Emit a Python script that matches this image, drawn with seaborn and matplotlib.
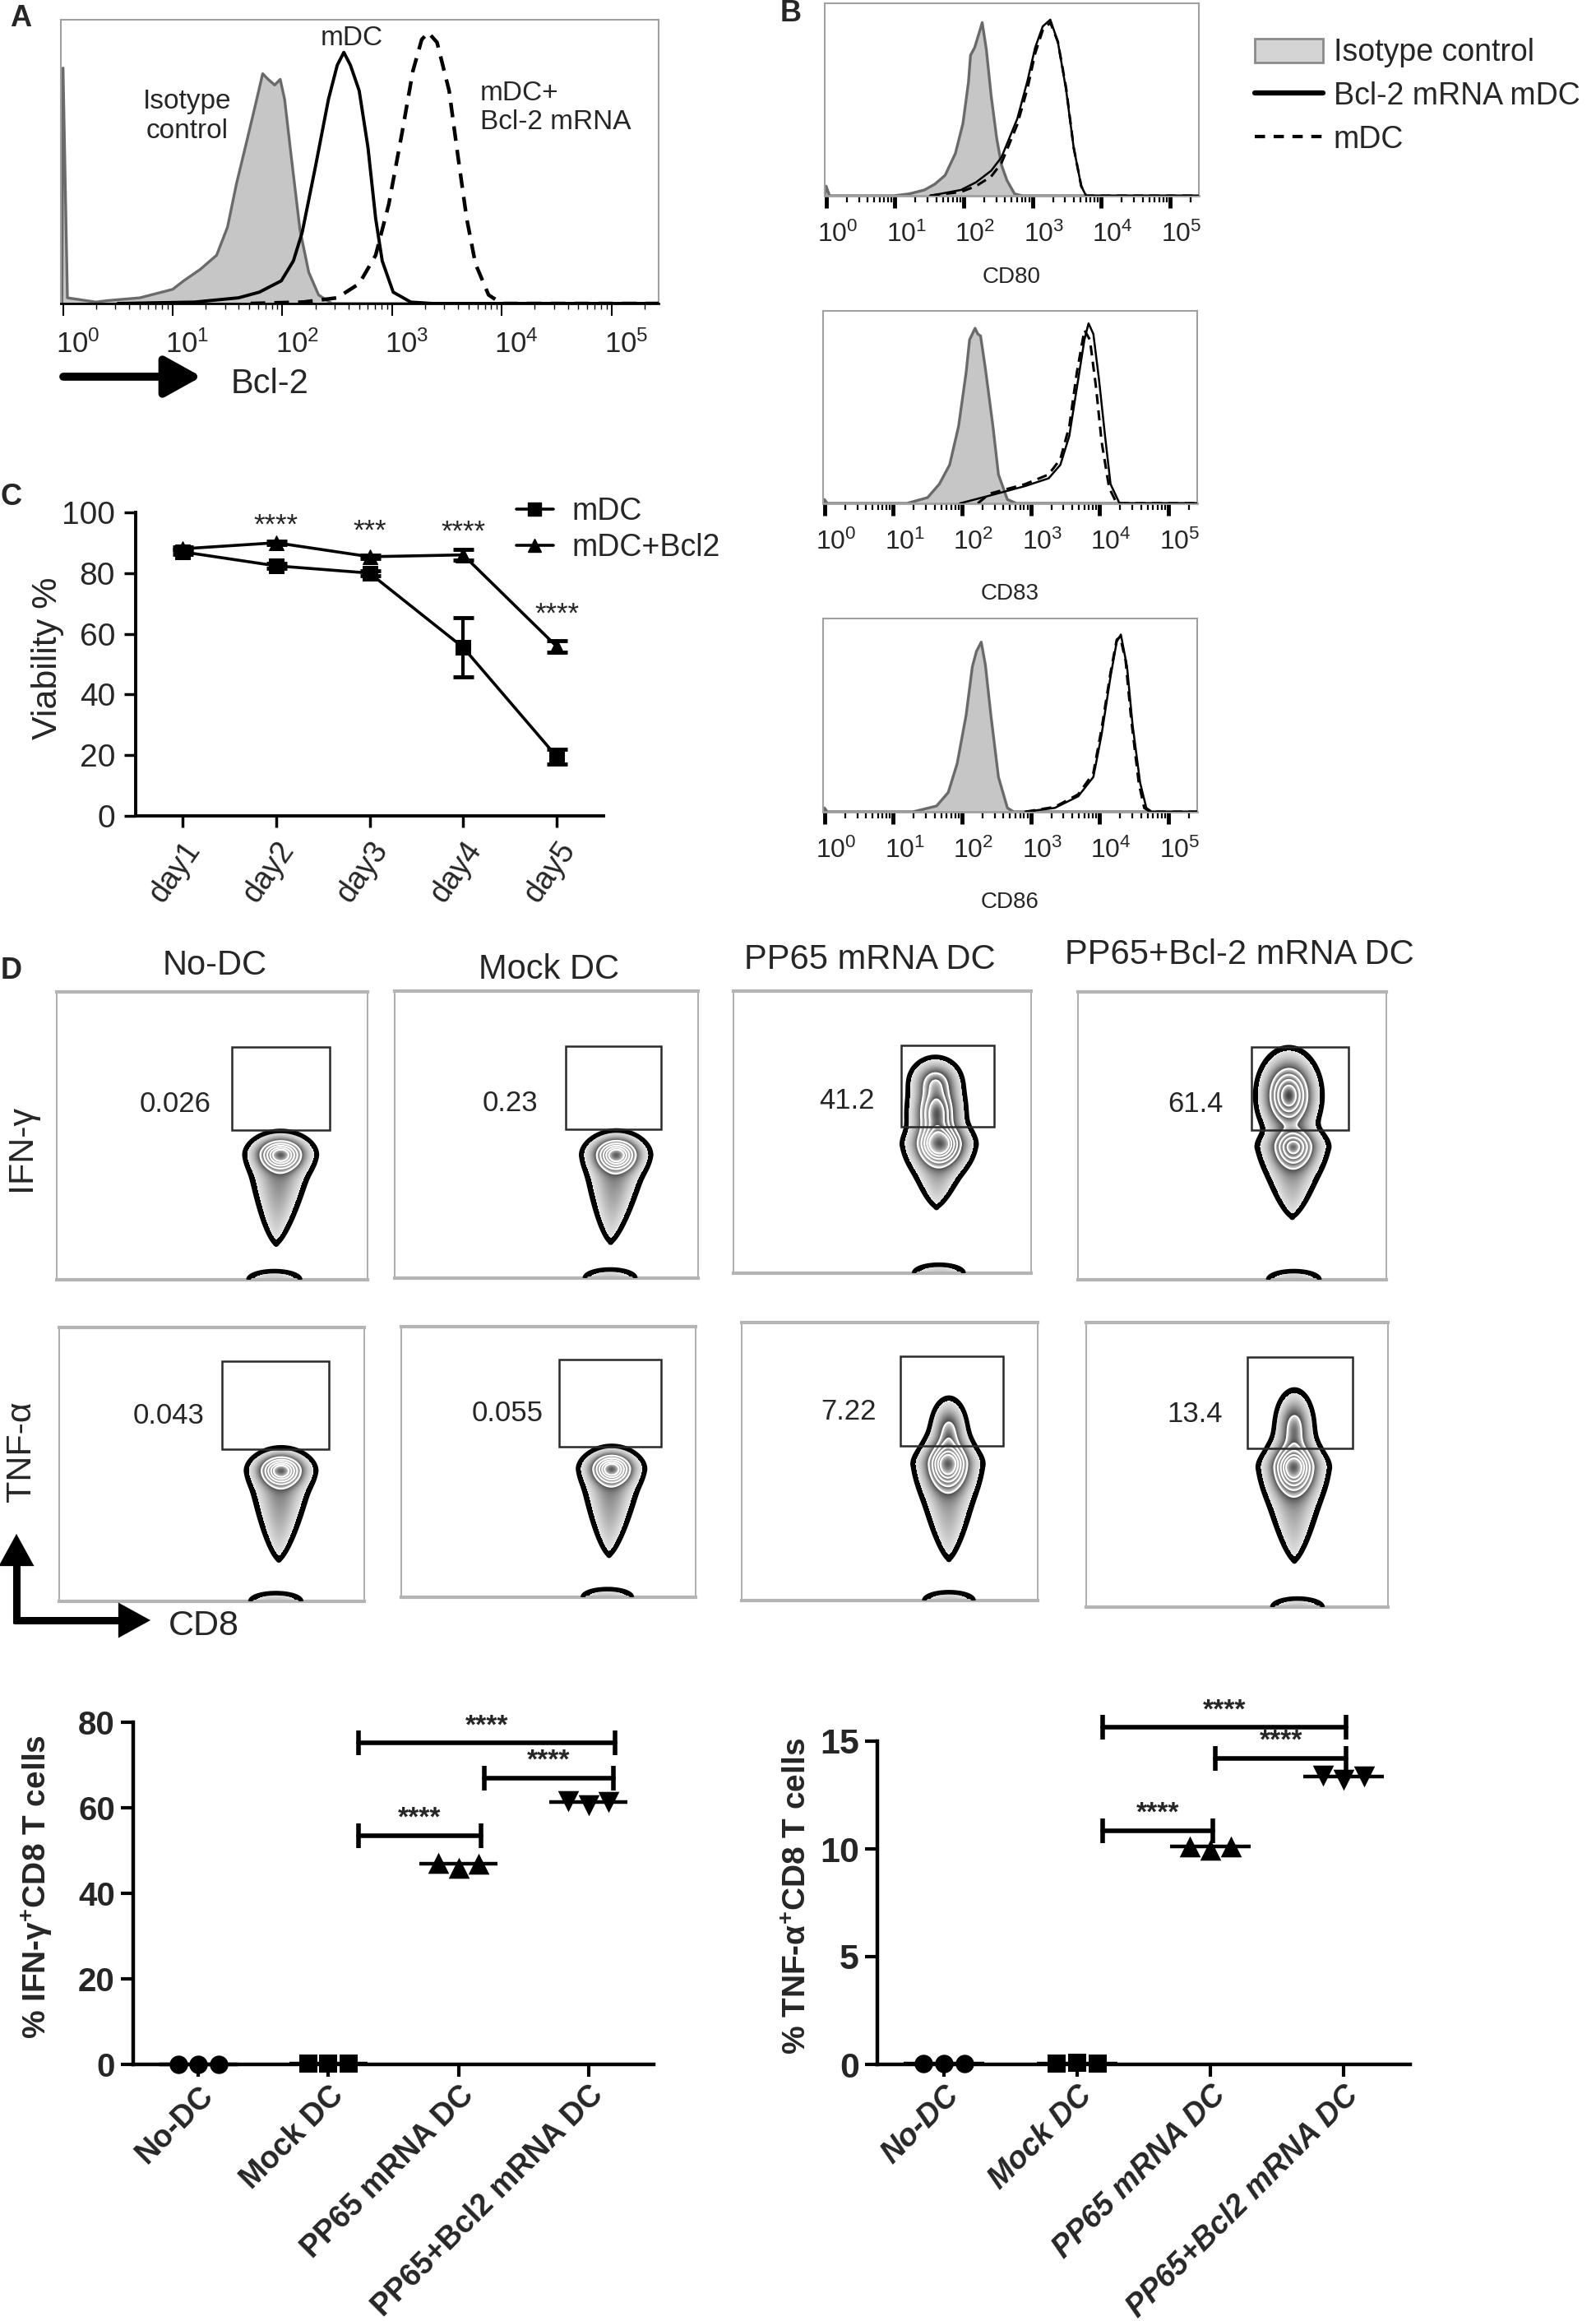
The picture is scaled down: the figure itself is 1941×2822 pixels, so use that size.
import numpy as np
import pandas as pd
import matplotlib
matplotlib.use("Agg")
import matplotlib.pyplot as plt
import matplotlib.transforms as mtransforms
from matplotlib.patches import Rectangle, Patch
from matplotlib.lines import Line2D
import seaborn as sns

# ====================== DATA ======================
# Panel A - Bcl-2 histograms (x = log10 fluorescence, y = relative count)
a_iso_x = [-0.01, 0.0, 0.04, 0.3, 0.4, 0.55, 0.7, 0.85, 1.0, 1.1, 1.25, 1.4, 1.5, 1.58, 1.68,
           1.76, 1.82, 1.87, 1.93, 1.98, 2.02, 2.08, 2.16, 2.24, 2.33, 2.45, 5.43]
a_iso_y = [0.0, 0.83, 0.02, 0.005, 0.01, 0.015, 0.02, 0.035, 0.05, 0.08, 0.12, 0.17, 0.27, 0.42, 0.58,
           0.71, 0.81, 0.79, 0.77, 0.79, 0.72, 0.52, 0.26, 0.11, 0.03, 0.0, 0.0]
a_mdc_x = [0.5, 1.2, 1.6, 1.79, 1.99, 2.1, 2.18, 2.3, 2.42, 2.5, 2.56, 2.62, 2.7, 2.78, 2.85, 2.91,
           3.01, 3.17, 3.37, 5.43]
a_mdc_y = [0.0, 0.005, 0.02, 0.04, 0.08, 0.15, 0.25, 0.48, 0.72, 0.84, 0.885, 0.84, 0.75, 0.55, 0.3, 0.15,
           0.04, 0.005, 0.0, 0.0]
a_bcl_x = [1.71, 2.19, 2.5, 2.7, 2.85, 2.97, 3.09, 3.19, 3.27, 3.33, 3.41, 3.52, 3.6, 3.68, 3.76, 3.88,
           4.0, 5.43]
a_bcl_y = [0.0, 0.005, 0.02, 0.07, 0.17, 0.35, 0.6, 0.82, 0.93, 0.955, 0.92, 0.75, 0.52, 0.3, 0.14, 0.03,
           0.0, 0.0]

# Panel B - CD80 / CD83 / CD86 histograms
b_markers = ["CD80", "CD83", "CD86"]
b1_iso_x = [-0.02, 0.0, 0.05, 0.99, 1.21, 1.43, 1.58, 1.73, 1.88, 1.99, 2.07, 2.1, 2.16, 2.22, 2.27,
            2.33, 2.4, 2.48, 2.55, 2.63, 2.74, 2.85, 5.42]
b1_iso_y = [0.0, 0.05, 0.0, 0.0, 0.01, 0.03, 0.06, 0.106, 0.22, 0.376, 0.59, 0.73, 0.77, 0.84, 0.9,
            0.76, 0.52, 0.3, 0.16, 0.08, 0.01, 0.0, 0.0]
b1_sol_x = [1.51, 1.96, 2.18, 2.4, 2.55, 2.78, 2.93, 3.04, 3.15, 3.26, 3.37, 3.49, 3.6, 3.71, 3.78, 5.42]
b1_sol_y = [0.0, 0.03, 0.07, 0.13, 0.2, 0.4, 0.6, 0.77, 0.88, 0.915, 0.8, 0.55, 0.25, 0.05, 0.0, 0.0]
b1_dash_x = [1.51, 1.96, 2.18, 2.4, 2.55, 2.78, 2.93, 3.04, 3.15, 3.26, 3.37, 3.49, 3.6, 3.71, 3.78, 5.42]
b1_dash_y = [0.0, 0.02, 0.05, 0.1, 0.17, 0.37, 0.56, 0.74, 0.86, 0.9, 0.8, 0.56, 0.25, 0.05, 0.0, 0.0]

b2_iso_x = [-0.02, 0.0, 0.04, 1.2, 1.5, 1.67, 1.82, 1.95, 2.06, 2.11, 2.19, 2.23, 2.27, 2.34, 2.45,
            2.53, 2.66, 2.79, 5.42]
b2_iso_y = [0.0, 0.02, 0.0, 0.0, 0.03, 0.1, 0.2, 0.4, 0.68, 0.85, 0.91, 0.88, 0.87, 0.7, 0.4,
            0.15, 0.02, 0.0, 0.0]
b2_sol_x = [1.97, 2.4, 2.92, 3.26, 3.43, 3.56, 3.67, 3.78, 3.84, 3.91, 3.99, 4.08, 4.16, 4.29, 5.42]
b2_sol_y = [0.0, 0.04, 0.09, 0.13, 0.2, 0.35, 0.6, 0.85, 0.935, 0.88, 0.65, 0.35, 0.1, 0.0, 0.0]
b2_dash_x = [2.23, 2.4, 2.92, 3.26, 3.43, 3.56, 3.67, 3.78, 3.86, 3.95, 4.03, 4.14, 4.25, 5.42]
b2_dash_y = [0.0, 0.05, 0.1, 0.15, 0.23, 0.4, 0.68, 0.9, 0.85, 0.6, 0.32, 0.08, 0.0, 0.0]

b3_iso_x = [-0.02, 0.0, 0.04, 1.29, 1.63, 1.8, 1.93, 2.06, 2.15, 2.21, 2.28, 2.34, 2.42, 2.53, 2.66,
            2.75, 5.42]
b3_iso_y = [0.0, 0.02, 0.0, 0.0, 0.03, 0.1, 0.25, 0.5, 0.75, 0.83, 0.878, 0.76, 0.5, 0.18, 0.02,
            0.0, 0.0]
b3_sol_x = [2.92, 3.35, 3.69, 3.91, 4.03, 4.16, 4.25, 4.31, 4.4, 4.48, 4.59, 4.68, 4.76, 5.42]
b3_sol_y = [0.0, 0.02, 0.08, 0.18, 0.4, 0.7, 0.88, 0.917, 0.75, 0.45, 0.15, 0.02, 0.0, 0.0]
b3_dash_x = [2.92, 3.35, 3.69, 3.91, 4.03, 4.16, 4.25, 4.3, 4.38, 4.46, 4.57, 4.65, 4.74, 5.42]
b3_dash_y = [0.0, 0.025, 0.09, 0.2, 0.43, 0.72, 0.89, 0.905, 0.78, 0.48, 0.15, 0.02, 0.0, 0.0]

legend_labels = ["Isotype control", "Bcl-2 mRNA mDC", "mDC"]

# Panel C - viability
days = ["day1", "day2", "day3", "day4", "day5"]
c_mdc = [87.0, 82.4, 80.0, 55.5, 19.5]
c_mdc_err = [0.8, 0.8, 0.8, 9.8, 2.4]
c_bcl = [88.0, 90.0, 85.4, 86.0, 55.8]
c_bcl_err = [0.5, 0.6, 0.6, 1.8, 2.0]
c_sig = ["", "****", "***", "****", "****"]
c_sig_y = [0, 95.7, 93.8, 93.5, 66.5]

# Panel D - flow plots
d_titles = ["No-DC", "Mock DC", "PP65 mRNA DC", "PP65+Bcl-2 mRNA DC"]
d_ifn_pct = ["0.026", "0.23", "41.2", "61.4"]
d_tnf_pct = ["0.043", "0.055", "7.22", "13.4"]
# populations (panel fractions):
#   cores: (cx, cy, sx, sy, weight); tail: (x_start, y_start, width_start, level_start, x_tip, y_tip)
d_ifn_pop = [
    ([(0.721, 0.433, 0.037, 0.029, 1.0), (0.70, 0.0, 0.05, 0.018, 0.08)],
     (0.720, 0.433, 0.043, 0.25, 0.706, 0.127)),
    ([(0.731, 0.428, 0.036, 0.030, 1.0), (0.71, 0.0, 0.05, 0.018, 0.08)],
     (0.729, 0.428, 0.043, 0.25, 0.712, 0.128)),
    ([(0.682, 0.57, 0.037, 0.06, 0.8), (0.693, 0.455, 0.04, 0.04, 1.0), (0.678, 0.68, 0.036, 0.035, 0.35),
      (0.69, 0.0, 0.05, 0.018, 0.08)],
     (0.69, 0.455, 0.046, 0.25, 0.682, 0.236)),
    ([(0.684, 0.64, 0.039, 0.06, 1.0), (0.699, 0.46, 0.035, 0.04, 0.7), (0.70, 0.0, 0.05, 0.018, 0.08)],
     (0.697, 0.46, 0.046, 0.25, 0.695, 0.22)),
]
d_tnf_pop = [
    ([(0.728, 0.476, 0.036, 0.030, 1.0), (0.71, 0.0, 0.05, 0.018, 0.08)],
     (0.727, 0.476, 0.043, 0.25, 0.72, 0.154)),
    ([(0.715, 0.473, 0.035, 0.030, 1.0), (0.70, 0.0, 0.05, 0.018, 0.08)],
     (0.714, 0.473, 0.043, 0.25, 0.706, 0.158)),
    ([(0.697, 0.49, 0.036, 0.05, 1.0), (0.70, 0.61, 0.026, 0.05, 0.35), (0.70, 0.0, 0.05, 0.018, 0.08)],
     (0.697, 0.49, 0.046, 0.25, 0.70, 0.151)),
    ([(0.688, 0.49, 0.036, 0.05, 1.0), (0.69, 0.63, 0.027, 0.055, 0.4), (0.70, 0.0, 0.05, 0.018, 0.08)],
     (0.688, 0.49, 0.046, 0.25, 0.69, 0.165)),
]

# Bottom dot plots
groups = ["No-DC", "Mock DC", "PP65 mRNA DC", "PP65+Bcl2 mRNA DC"]
ifn_vals = [[0.03, 0.02, 0.03], [0.23, 0.25, 0.20], [47.2, 46.0, 47.0], [61.5, 60.6, 61.4]]
tnf_vals = [[0.04, 0.04, 0.05], [0.055, 0.06, 0.05], [10.1, 9.95, 10.1], [13.4, 13.2, 13.35]]
ifn_brackets = [(1.23, 3.20, 75.1), (2.20, 3.19, 66.9), (1.23, 2.17, 53.4)]
tnf_brackets = [(1.19, 3.02, 15.63), (2.04, 3.02, 14.2), (1.19, 2.02, 10.85)]
bracket_label = "****"

# ====================== STYLE / LAYOUT ======================
sns.set_theme(style="white")
REG = ["Liberation Sans", "DejaVu Sans"]
NARROW = ["Liberation Sans Narrow", "Liberation Sans", "DejaVu Sans"]
plt.rcParams["font.family"] = REG
plt.rcParams["mathtext.fontset"] = "custom"
plt.rcParams["mathtext.rm"] = "Liberation Sans"
plt.rcParams["mathtext.it"] = "Liberation Sans:italic"
plt.rcParams["mathtext.bf"] = "Liberation Sans:bold"
plt.rcParams["axes.facecolor"] = "white"

W, H = 1941, 2822
fig = plt.figure(figsize=(W / 100, H / 100), dpi=100)
fig.patch.set_facecolor("white")


def add_ax(l, t, r, b):
    return fig.add_axes([l / W, 1 - b / H, (r - l) / W, (b - t) / H])


ov = fig.add_axes([0, 0, 1, 1], zorder=10)
ov.set_xlim(0, W)
ov.set_ylim(H, 0)
ov.axis("off")
ov.patch.set_alpha(0)


def log_axis(ax, xmax, labsize, labfam, pad, shift_px, major_w=1.5, gray_bottom=False):
    ax.set_xlim(-0.02, xmax)
    ax.set_ylim(0, 1)
    ax.set_yticks([])
    ax.set_xticks(range(6))
    ax.set_xticklabels([f"$10^{{{d}}}$" for d in range(6)])
    minors = [d + np.log10(k) for d in range(6) for k in range(2, 10) if d + np.log10(k) < xmax]
    ax.set_xticks(minors, minor=True)
    ax.tick_params(axis="x", which="major", direction="out", length=11, width=major_w, color="black",
                   labelsize=labsize, pad=pad, bottom=True)
    ax.tick_params(axis="x", which="minor", direction="out", length=5, width=1.0, color="black", bottom=True)
    off = mtransforms.ScaledTranslation(shift_px / 100, 0, fig.dpi_scale_trans)
    for lab in ax.get_xticklabels():
        lab.set_transform(lab.get_transform() + off)
        lab.set_fontfamily(labfam)
    for s in ["top", "right", "left"]:
        ax.spines[s].set_color("#a0a0a0")
        ax.spines[s].set_linewidth(1.5)
    ax.spines["bottom"].set_color("#a0a0a0" if gray_bottom else "black")
    ax.spines["bottom"].set_linewidth(2)
    ax.grid(False)


def hist(ax, ix, iy, sx, sy, dx, dy, lw=2.3):
    ax.fill_between(ix, iy, color="#c6c6c6", lw=0, zorder=1)
    ax.plot(ix, iy, color="#6a6a6a", lw=2.4, zorder=2)
    sns.lineplot(x=sx, y=sy, ax=ax, color="black", lw=lw, estimator=None, sort=False, zorder=3)
    sns.lineplot(x=dx, y=dy, ax=ax, color="black", lw=lw + 0.4, estimator=None, sort=False,
                 linestyle=(0, (4, 2.5)), zorder=4)


# ---------------- Panel A ----------------
axA = add_ax(74, 24, 801, 369)
hist(axA, a_iso_x, a_iso_y, a_mdc_x, a_mdc_y, a_bcl_x, a_bcl_y, lw=2.8)
log_axis(axA, 5.43, 25, NARROW, 12, 18)
axA.text(1.13, 0.66, "Isotype\ncontrol", ha="center", va="center", fontsize=24, family=NARROW, linespacing=1.2)
axA.text(2.63, 0.935, "mDC", ha="center", va="center", fontsize=24, family=NARROW)
axA.text(3.80, 0.69, "mDC+\nBcl-2 mRNA", ha="left", va="center", fontsize=24, family=NARROW, linespacing=1.2)
ov.text(12, 22, "A", fontsize=26, fontweight="bold", ha="left", va="center")
ov.annotate("", xy=(245, 458), xytext=(77, 458),
            arrowprops=dict(arrowstyle="-|>,head_length=0.9,head_width=0.5", lw=7, color="black",
                            shrinkA=0, shrinkB=0, mutation_scale=30))
ov.text(328, 467, "Bcl-2", fontsize=30, family=NARROW, ha="center", va="center")

# ---------------- Panel B ----------------
b_boxes = [(1003, 4, 1458, 238), (1001, 378, 1456, 612), (1001, 752, 1456, 987)]
b_data = [(b1_iso_x, b1_iso_y, b1_sol_x, b1_sol_y, b1_dash_x, b1_dash_y),
          (b2_iso_x, b2_iso_y, b2_sol_x, b2_sol_y, b2_dash_x, b2_dash_y),
          (b3_iso_x, b3_iso_y, b3_sol_x, b3_sol_y, b3_dash_x, b3_dash_y)]
for k, (box, dat) in enumerate(zip(b_boxes, b_data)):
    ax = add_ax(*box)
    hist(ax, *dat, lw=1.8)
    log_axis(ax, 5.42, 23, NARROW if k == 0 else REG, 12, 14, major_w=3.5, gray_bottom=True)
    ax.tick_params(axis="x", which="minor", width=1.6, length=6)
    ov.text((box[0] + box[2]) / 2, box[3] + (99 if k == 0 else 110), b_markers[k], fontsize=20,
            family=NARROW if k == 0 else REG, ha="center", va="center")
ov.text(962, 16, "B", fontsize=26, fontweight="bold", ha="center", va="center")

handles = [Patch(facecolor="#d4d4d4", edgecolor="#8a8a8a", lw=2),
           Line2D([0], [0], color="black", lw=4.5),
           Line2D([0], [0], color="black", lw=3, linestyle=(0, (3, 2.5)))]
fig.legend(handles, legend_labels, loc="upper left", bbox_to_anchor=(1500 / W, 1 - 20 / H), frameon=False,
           prop={"family": NARROW, "size": 27}, handlelength=2.2, handleheight=0.8, handletextpad=0.35,
           labelspacing=0.45, borderpad=0.2)

# ---------------- Panel C ----------------
axC = add_ax(165, 623, 734, 992)
xpos = np.arange(len(days))
dfc = pd.DataFrame({"pos": np.concatenate([xpos, xpos]),
                    "val": c_mdc + c_bcl,
                    "grp": ["mDC"] * 5 + ["mDC+Bcl2"] * 5})
sns.lineplot(data=dfc, x="pos", y="val", style="grp", markers={"mDC": "s", "mDC+Bcl2": "^"},
             dashes=False, color="black", lw=2.6, markersize=13, markeredgecolor="black",
             legend=False, ax=axC, estimator=None, zorder=3)
axC.errorbar(xpos, c_mdc, yerr=c_mdc_err, fmt="none", ecolor="black", elinewidth=3, capsize=9, capthick=3.5,
             zorder=4)
axC.errorbar(xpos, c_bcl, yerr=c_bcl_err, fmt="none", ecolor="black", elinewidth=3, capsize=9, capthick=3.5,
             zorder=4)
for i, (s, y) in enumerate(zip(c_sig, c_sig_y)):
    if s:
        axC.text(i, y, s, ha="center", va="center", fontsize=25, family=NARROW)
axC.set_xlim(-0.5, 4.5)
axC.set_ylim(0, 100)
axC.set_yticks(range(0, 101, 20))
axC.set_xticks(xpos)
axC.set_xticklabels(days, rotation=55, ha="right", rotation_mode="anchor")
axC.set_xlabel("")
axC.set_ylabel("")
axC.tick_params(axis="both", direction="out", length=10, width=2.5, color="black", labelsize=28,
                left=True, bottom=True, pad=8)
for lab in axC.get_xticklabels() + axC.get_yticklabels():
    lab.set_fontfamily(NARROW)
for lab in axC.get_xticklabels():
    lab.set_fontsize(27)
for s in ["top", "right"]:
    axC.spines[s].set_visible(False)
for s in ["left", "bottom"]:
    axC.spines[s].set_color("black")
    axC.spines[s].set_linewidth(2.8)
ov.text(58, 800, "Viability %", rotation=90, fontsize=31, family=NARROW, ha="center", va="center")
ov.text(14, 604, "C", fontsize=26, fontweight="bold", ha="center", va="center")
c_handles = [Line2D([0], [0], color="black", lw=2.6, marker="s", markersize=12),
             Line2D([0], [0], color="black", lw=2.6, marker="^", markersize=12)]
fig.legend(c_handles, ["mDC", "mDC+Bcl2"], loc="upper left", bbox_to_anchor=(605 / W, 1 - 582 / H),
           frameon=False, prop={"family": NARROW, "size": 27}, handlelength=1.2, handletextpad=0.6,
           labelspacing=0.2, borderpad=0.1)

# ---------------- Panel D ----------------
LV0 = 0.02
LV_BLACK = 0.032
LV_WHITE = np.array([0.3, 0.48, 0.66, 0.84, 1.0])


def zebra(ax, pop):
    cores, tail = pop
    n = 450
    g = np.linspace(0, 1, n)
    X, Y = np.meshgrid(g, g)
    D = np.zeros_like(X)
    for cx, cy, sx, sy, w in cores:
        D += w * np.exp(-0.5 * (((X - cx) / sx) ** 2 + ((Y - cy) / sy) ** 2))
    xs, ys, s0, a0, xt, yt = tail
    L = ys - yt
    t = (ys - Y) / L
    tc = np.clip(t, 0, 1)
    A = a0 * (1 - tc) + 0.024 * tc
    A = np.where(t < 0, a0 * np.exp(-0.5 * (t * L / 0.03) ** 2), A)
    A = np.where(t > 1, 0.024 * np.exp(-0.5 * ((t - 1) * L / 0.008) ** 2), A)
    S = s0 * np.sqrt(1 - tc) + 0.005
    XC = xs + (xt - xs) * tc
    D += A * np.exp(-0.5 * ((X - XC) / S) ** 2)

    bounds = np.concatenate([[LV_BLACK], LV_WHITE, [max(D.max(), 1.0) + 0.05]])
    k = np.digitize(D, bounds)
    inside = k > 0
    kk = np.clip(k, 1, len(bounds) - 1)
    lo = bounds[kk - 1]
    hi = bounds[kk]
    f = np.clip((D - lo) / (hi - lo), 0, 1)
    gray = 0.9 - 0.65 * f
    rgba = np.zeros(X.shape + (4,))
    rgba[..., 0] = gray
    rgba[..., 1] = gray
    rgba[..., 2] = gray
    rgba[..., 3] = inside.astype(float)
    ax.imshow(rgba, extent=(0, 1, 0, 1), origin="lower", aspect="auto", interpolation="bilinear", zorder=1)
    ax.contourf(X, Y, D, levels=[LV0, LV_BLACK], colors=["black"], zorder=2)
    ax.contour(X, Y, D, levels=LV_WHITE, colors="white", linewidths=1.5, zorder=3)
    ax.contour(X, Y, D, levels=[LV0], colors="black", linewidths=4.0, zorder=4)


d_row1 = [(69, 1206, 447, 1556), (480, 1205, 849, 1554), (892, 1205, 1254, 1548), (1311, 1206, 1686, 1556)]
d_row2 = [(72, 1614, 443, 1947), (488, 1613, 846, 1942), (902, 1608, 1262, 1946), (1321, 1608, 1688, 1954)]
gate1 = (0.563, 0.52, 0.877, 0.809)
gate2 = (0.535, 0.557, 0.883, 0.878)
lab1 = (0.38, 0.61)
lab2 = (0.36, 0.678)
for row, boxes, pops, pcts, gate, lab in [(0, d_row1, d_ifn_pop, d_ifn_pct, gate1, lab1),
                                          (1, d_row2, d_tnf_pop, d_tnf_pct, gate2, lab2)]:
    for j, box in enumerate(boxes):
        ax = add_ax(*box)
        ax.set_xlim(0, 1)
        ax.set_ylim(0, 1)
        zebra(ax, pops[j])
        ax.add_patch(Rectangle((gate[0], gate[1]), gate[2] - gate[0], gate[3] - gate[1], fill=False,
                               edgecolor="#2a2a2a", lw=1.8, zorder=5))
        ax.text(lab[0], lab[1], pcts[j], ha="center", va="center", fontsize=25, family=REG, zorder=6)
        ax.set_xticks([])
        ax.set_yticks([])
        for s in ["left", "right"]:
            ax.spines[s].set_color("#a8a8a8")
            ax.spines[s].set_linewidth(1.3)
        for s in ["top", "bottom"]:
            ax.spines[s].set_color("#b4b4b4")
            ax.spines[s].set_linewidth(3.0)
        ax.grid(False)

title_pos = [(261, 1174), (668, 1179), (1058, 1167), (1507, 1161)]
for t, (x, y) in zip(d_titles, title_pos):
    ov.text(x, y, t, fontsize=30, family=NARROW, ha="center", va="center")
ov.text(14, 1180, "D", fontsize=26, fontweight="bold", ha="center", va="center")
ov.text(26, 1395, "IFN-γ", rotation=90, fontsize=31, family=REG, ha="center", va="center")
ov.text(26, 1765, "TNF-α", rotation=90, fontsize=31, family=REG, ha="center", va="center")
ov.plot([20, 20], [1974, 1890], color="black", lw=6.5, solid_capstyle="butt")
ov.annotate("", xy=(20, 1865), xytext=(20, 1895),
            arrowprops=dict(arrowstyle="-|>,head_length=1.0,head_width=0.55", lw=0.1, color="black",
                            shrinkA=0, shrinkB=0, mutation_scale=28))
ov.plot([17, 160], [1970, 1970], color="black", lw=6.5, solid_capstyle="butt")
ov.annotate("", xy=(183, 1970), xytext=(150, 1970),
            arrowprops=dict(arrowstyle="-|>,head_length=1.0,head_width=0.55", lw=0.1, color="black",
                            shrinkA=0, shrinkB=0, mutation_scale=28))
ov.text(205, 1977, "CD8", fontsize=31, family=REG, ha="left", va="center")

# ---------------- Bottom dot plots ----------------
markers4 = ["o", "s", "^", "v"]
offs = np.array([-0.155, 0.0, 0.155])


def dotplot(ax, vals, brackets, ymax, yticks, ylab_italic):
    for i, v in enumerate(vals):
        sns.scatterplot(x=i + offs, y=v, marker=markers4[i], s=260 if i < 2 else 340, color="black",
                        edgecolor="black", linewidth=0, ax=ax, legend=False, clip_on=False, zorder=4)
        ax.plot([i - 0.3, i + 0.3], [np.median(v)] * 2, color="black", lw=3.2, zorder=3, clip_on=False,
                solid_capstyle="butt")
    for x0, x1, y in brackets:
        ax.plot([x0, x1], [y, y], color="black", lw=4, marker="|", markersize=22, mew=4, clip_on=False,
                zorder=5)
        ax.annotate(bracket_label, ((x0 + x1) / 2, y), xytext=(0, 15), textcoords="offset points",
                    ha="center", va="center", fontsize=24, fontweight="bold", family=NARROW,
                    annotation_clip=False)
    ax.set_xlim(-0.5, 3.5)
    ax.set_ylim(0, ymax)
    ax.set_yticks(yticks)
    ax.set_xticks(range(4))
    ax.set_xticklabels(groups, rotation=45, ha="right", rotation_mode="anchor")
    ax.set_xlabel("")
    ax.set_ylabel("")
    ax.tick_params(axis="both", direction="out", length=11, width=3, color="black", labelsize=29,
                   left=True, bottom=True, pad=5)
    ax.tick_params(axis="x", labelsize=27, pad=3)
    for lab in ax.get_xticklabels():
        lab.set_fontweight("bold")
        lab.set_fontfamily(REG)
        if ylab_italic:
            lab.set_fontstyle("italic")
    for lab in ax.get_yticklabels():
        lab.set_fontweight("bold")
        lab.set_fontfamily(REG if not ylab_italic else NARROW)
    for s in ["top", "right"]:
        ax.spines[s].set_visible(False)
    for s in ["left", "bottom"]:
        ax.spines[s].set_color("black")
        ax.spines[s].set_linewidth(3.2)
    ax.grid(False)


axL = add_ax(162, 2094, 795, 2510)
dotplot(axL, ifn_vals, ifn_brackets, 80, range(0, 81, 20), False)
axR = add_ax(1067, 2117, 1715, 2510)
dotplot(axR, tnf_vals, tnf_brackets, 15, [0, 5, 10, 15], True)
axR.set_yticklabels(["0", "5", "10", "15"])
for lab in axR.get_yticklabels():
    lab.set_fontweight("bold")
    lab.set_fontfamily(NARROW)
    lab.set_fontsize(31)
ov.text(45, 2294, "% IFN-γ$^{\\mathbf{+}}$CD8 T cells", rotation=90, fontsize=28, fontweight="bold",
        ha="center", va="center")
ov.text(970, 2305, "% TNF-α$^{\\mathbf{+}}$CD8 T cells", rotation=90, fontsize=28, fontweight="bold",
        ha="center", va="center")

fig.savefig("out.png", dpi=100, facecolor="white")
